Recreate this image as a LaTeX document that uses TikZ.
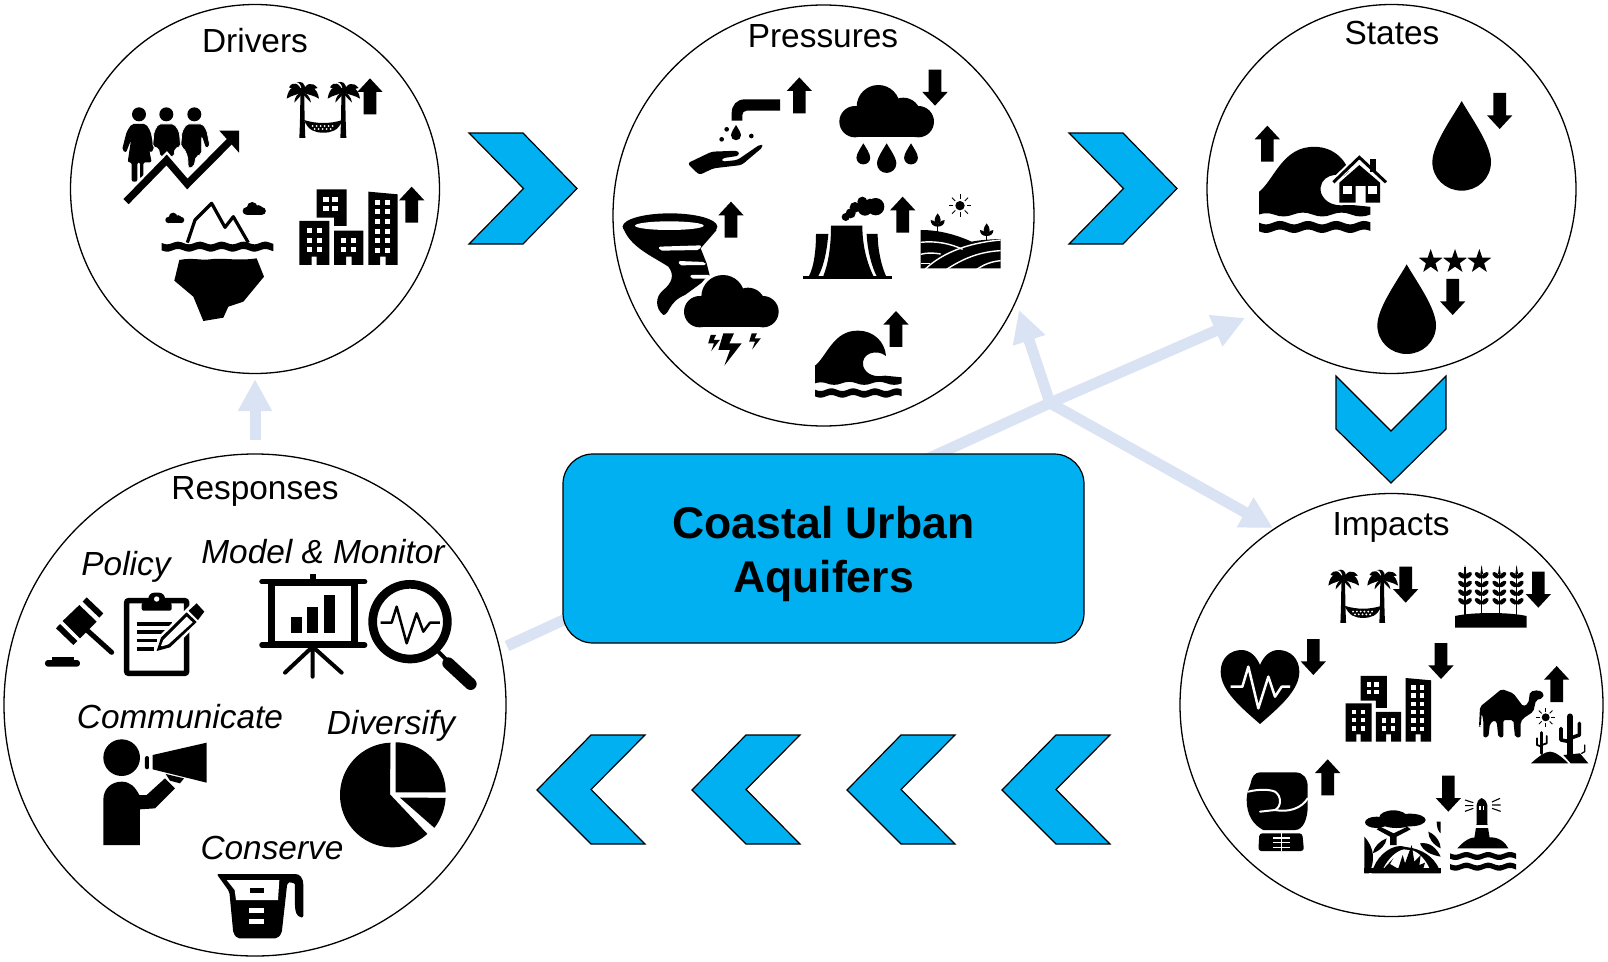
\documentclass[tikz,border=0pt]{standalone}
\usepackage{fontspec}
\setmainfont{Liberation Sans}
\usetikzlibrary{arrows.meta}
\definecolor{cyanfill}{HTML}{00B0F0}
\definecolor{linkblue}{HTML}{DAE3F3}

% wavy water band: x, y, length, half thickness, amplitude
\newcommand{\wavyband}[5]{%
  \fill plot[domain=0:#3,samples=50] ({#1+\x},{#2-#4+#5*sin(\x*5.5)})
     -- plot[domain=#3:0,samples=50] ({#1+\x},{#2+#4+#5*sin(\x*5.5)}) -- cycle;}

% places an icon drawing at a point, optionally scaled
\newcommand{\place}[3][1]{\begin{scope}[shift={#2},scale=#1]#3\end{scope}}

\newcommand{\icoUp}{\fill (0,0)--(38,41)--(19,41)--(19,108)--(-19,108)--(-19,41)--(-38,41)--cycle;}
\newcommand{\icoDown}{\fill (0,0)--(38,-41)--(19,-41)--(19,-108)--(-19,-108)--(-19,-41)--(-38,-41)--cycle;}
\newcommand{\icoChevR}{\path[chev] (0,0)--(54,0)--(108,55.5)--(54,111)--(0,111)--(54.5,55.5)--cycle;}
\newcommand{\icoChevL}{\path[chev] (0,0)--(-54,0)--(-108,55)--(-54,109)--(0,109)--(-54,54.5)--cycle;}
\newcommand{\icoChevD}{\path[chev] (0,0)--(55,55)--(110,0)--(110,53)--(55,107)--(0,53)--cycle;}
\newcommand{\icoDrop}{\fill (0,0) .. controls (-25,45) and (-88,130) .. (-88,183)
     .. controls (-88,232) and (-48,269) .. (0,269)
     .. controls (48,269) and (88,232) .. (88,183)
     .. controls (88,130) and (25,45) .. (0,0)--cycle;}
\newcommand{\icoCloud}{\begin{scope}[shift={(-688,-255)}]
     \fill (735,365) circle[radius=47]; \fill (805,320) circle[radius=65];
     \fill (880,345) circle[radius=52]; \fill (925,365) circle[radius=47];
     \fill (735,330) rectangle (925,412); \end{scope}}
\newcommand{\icoBolt}{\fill (0,0)--(32,0)--(18,30)--(55,30)--(3,97)--(20,50)--(-15,50)--cycle;}
\newcommand{\icoStar}{\fill (0,-38)--(8.8,-12.1)--(36.1,-11.7)--(14.3,4.6)--(22.3,30.7)--(0,15)
     --(-22.3,30.7)--(-14.3,4.6)--(-36.1,-11.7)--(-8.8,-12.1)--cycle;}
\newcommand{\icoPalm}{
     \fill (-6,0) -- (6,0) .. controls (6,50) and (7,100) .. (9,142) -- (-9,142) .. controls (-7,100) and (-6,50) .. (-6,0) -- cycle;
     \fill (0,0) ellipse[x radius=17,y radius=9];
     \fill (0,5) .. controls (-20,-22) and (-42,-12) .. (-47,24) .. controls (-32,14) and (-15,12) .. (0,5) -- cycle;
     \fill (0,5) .. controls (-10,-24) and (-28,-30) .. (-40,-10) .. controls (-25,-5) and (-10,2) .. (0,5) -- cycle;
     \fill (0,5) .. controls (-4,-18) and (-8,-26) .. (-18,-24) .. controls (-4,-30) and (10,-24) .. (8,-2) -- cycle;
     \fill (0,5) .. controls (10,-24) and (30,-28) .. (46,-8) .. controls (28,-4) and (12,2) .. (0,5) -- cycle;
     \fill (0,5) .. controls (20,-20) and (45,-12) .. (50,24) .. controls (35,14) and (15,12) .. (0,5) -- cycle;
     \fill (0,3) .. controls (-14,8) and (-24,20) .. (-24,36) .. controls (-14,24) and (-4,18) .. (0,3) -- cycle;
     \fill (0,3) .. controls (14,8) and (24,20) .. (26,36) .. controls (16,24) and (4,18) .. (0,3) -- cycle;}
\newcommand{\icoHammock}{\begin{scope}[shift={(-680,-250)}]
     \place{(727,272)}{\icoPalm} \place{(850,272)}{\icoPalm}
     \fill (732,360) .. controls (770,372) and (810,372) .. (848,360)
        .. controls (835,392) and (815,398) .. (790,398) .. controls (765,398) and (745,392) .. (732,360) -- cycle;
     \foreach \a in {758,770,...,826} {\fill[white] (\a,378) circle[radius=3.2]; }
     \foreach \a in {764,776,...,820} {\fill[white] (\a,387) circle[radius=3.2]; }
     \end{scope}}
\newcommand{\icoCity}{\begin{scope}[shift={(-718,-567)}]
     \fill (770,568)--(860,568)--(860,678)--(822,678)--(822,653)--(770,653)--cycle;
     \fill (718,663)--(808,663)--(808,795)--(770,795)--(770,770)--(755,770)--(755,795)--(718,795)--cycle;
     \fill (822,692)--(910,692)--(910,795)--(875,795)--(875,770)--(858,770)--(858,795)--(822,795)--cycle;
     \fill (925,575)--(1013,583)--(1013,795)--(977,795)--(977,770)--(960,770)--(960,795)--(925,795)--cycle;
     \foreach \a in {790,817} \foreach \b in {590,617} {\fill[white] (\a,\b) rectangle ++(16,15);}
     \foreach \a in {740,770} \foreach \b in {685,713,742} {\fill[white] (\a,\b) rectangle ++(15,15);}
     \foreach \a in {843,873} \foreach \b in {715,742} {\fill[white] (\a,\b) rectangle ++(15,15);}
     \foreach \a in {945,975} \foreach \b in {600,628,657,686,714,743} {\fill[white] (\a,\b) rectangle ++(15,15);}
     \end{scope}}
\newcommand{\icoWave}{\begin{scope}[shift={(-615,-990)}]
     \fill (615,1097) .. controls (650,1070) and (670,990) .. (745,992)
        .. controls (790,992) and (825,1025) .. (828,1068)
        .. controls (800,1045) and (750,1060) .. (760,1100)
        .. controls (770,1125) and (795,1132) .. (825,1127)
        -- (875,1132) -- (875,1150) .. controls (860,1156) and (845,1156) .. (830,1150)
        .. controls (815,1144) and (800,1144) .. (785,1150)
        .. controls (770,1156) and (755,1156) .. (740,1150)
        .. controls (725,1144) and (710,1144) .. (695,1150)
        .. controls (680,1156) and (665,1156) .. (650,1150)
        .. controls (640,1146) and (625,1146) .. (615,1150) -- cycle;
     \wavyband{615}{1179}{260}{10}{4}
     \end{scope}}
\newcommand{\icoSun}{\fill (0,0) circle[radius=14];
     \foreach \r in {0,45,...,315} {\draw[line width=.9pt] (\r:20) -- (\r:34);}}
\newcommand{\icoWheat}{\draw[line width=1.6pt] (0,0) -- (0,145);
     \fill (0,-5) -- (4,22) -- (-4,22) -- cycle;
     \foreach \b in {18,44,70,96} {
       \fill[rotate around={40:(10,\b+8)}] (10,\b+8) ellipse[x radius=13,y radius=7];
       \fill[rotate around={-40:(-10,\b+8)}] (-10,\b+8) ellipse[x radius=13,y radius=7];
     }}

\tikzset{
  stage/.style={circle,draw=black,line width=1.3pt,minimum size=#1,inner sep=0pt},
  caption/.style={anchor=base,font=\fontsize{33.4}{38}\selectfont,inner sep=0pt},
  subcaption/.style={anchor=base,font=\fontsize{33.4}{38}\selectfont\itshape,inner sep=0pt},
  hubbox/.style={draw=black,line width=1.2pt,fill=cyanfill,rounded corners=30pt,
     minimum width=521pt,minimum height=189pt,inner sep=0pt},
  link/.style={draw=linkblue,line width=11pt},
  linkhead/.style={link,-{Triangle[length=32pt,width=32pt]}},
  chev/.style={fill=cyanfill,draw=black,line width=1.2pt},
}

\begin{document}
\begin{tikzpicture}[x=1pt,y=-1pt]
\useasboundingbox (0,0) rectangle (1608,961);
\fill[white] (0,0) rectangle (1608,961);

% stage circles and hub box
\coordinate (hub) at (1050,403);
\coordinate (boxtop) at (925,460);
\coordinate (boxleft) at (570,617);
\coordinate (respend) at (507,646);
\coordinate (tipP) at (1019,310);
\coordinate (tipS) at (1245,318);
\coordinate (tipI) at (1273,528);
\path node[stage=369pt] (drivers) at (255,189) {};
\path node[stage=421pt] (pressures) at (823.5,215.5) {};
\path node[stage=369pt] (states) at (1391.5,189) {};
\path node[stage=502pt] (responses) at (255,705) {};
\path node[stage=423pt] (impacts) at (1391.5,705) {};

% pale links run underneath the hub box
\draw[linkhead,shorten <=13pt,shorten >=5pt] (responses.north) -- (drivers.south);
\draw[link] (boxleft) -- (respend);
\draw[link] (boxtop) -- (hub);
\draw[linkhead] (hub) -- (tipP);
\draw[linkhead] (hub) -- (tipS);
\draw[linkhead] (hub) -- (tipI);

\node[hubbox] (hubnode) at (823.5,548.5) {};
\node[align=center,inner sep=0pt,font=\fontsize{44.5}{54}\selectfont\bfseries] (hubtext) at (823.5,553.5)
  {Coastal Urban\\[0pt]Aquifers};

% flow chevrons
\place{(469,133)}{\icoChevR}
\place{(1069,133)}{\icoChevR}
\place{(1336,376)}{\icoChevD}
\place{(645,735)}{\icoChevL}
\place{(800,735)}{\icoChevL}
\place{(955,735)}{\icoChevL}
\place{(1110,735)}{\icoChevL}

% captions
\node[caption] (tdrivers) at (255,52) {Drivers};
\node[caption] (tpressures) at (823,47) {Pressures};
\node[caption] (tstates) at (1392,44) {States};
\node[caption] (tresponses) at (255,499) {Responses};
\node[caption] (timpacts) at (1391,535) {Impacts};
\node[subcaption] (tpolicy) at (126,575) {Policy};
\node[subcaption] (tmodel) at (323,563) {Model \& Monitor};
\node[subcaption] (tcomm) at (180,728) {Communicate};
\node[subcaption] (tdiv) at (391,734) {Diversify};
\node[subcaption] (tcons) at (272,859) {Conserve};

%%% Drivers icons
\begin{scope}[shift={(60,0)},scale=1/3]
  \foreach \a in {237,319,403} {\fill (\a,343) circle[radius=21];}
  \fill[rounded corners=2pt] (215,372)--(258,372)--(272,395)--(282,450)--(270,458)--(262,420)--(275,487)
     --(250,487)--(250,535)--(240,535)--(240,487)--(232,487)--(232,545)--(215,545)--(215,487)--(203,487)
     --(213,420)--(198,458)--(186,450)--(200,395)--cycle;
  \filldraw[draw=white,line width=.7pt,rounded corners=2pt] (295,372)--(343,372)--(358,395)--(362,440)--(345,445)--(342,470)--(300,470)--(296,445)--(278,440)--(282,395)--cycle;
  \filldraw[draw=white,line width=.7pt,rounded corners=2pt] (380,372)--(428,372)--(440,390)--(450,440)--(437,445)--(425,410)--(425,462)--(408,470)--(402,500)--(385,505)--(383,470)--(372,445)--(362,440)--(366,395)--cycle;
  \draw[white,line width=12pt] (198,605)--(320,480)--(382,552)--(505,428);
  \draw[line width=7.3pt] (198,605)--(320,480)--(382,552)--(515,418);
  \fill (478,392)--(537,392)--(537,458)--cycle;
  \place{(680,250)}{\icoHammock}
  \place{(930,235)}{\icoUp}
  \place{(718,567)}{\icoCity}
  \place{(1055,560)}{\icoUp}
  % iceberg
  \place[.2]{(316,638)}{\icoCloud}
  \place[.245]{(548,606)}{\icoCloud}
  \wavyband{305}{740}{335}{11}{4}
  \draw[line width=3.2pt,line join=round] (382,728)--(405,660)--(455,610)--(495,682)--(520,650)--(565,728);
  \fill (358,780) .. controls (400,772) and (420,782) .. (450,778) .. controls (490,772) and (530,784) .. (590,775)
     --(612,830)--(550,905)--(505,920)--(490,953)--(430,963)--(400,890)--(343,842)--cycle;
\end{scope}

%%% Pressures icons
\begin{scope}[shift={(610,0)},scale=1/3]
  % tap and hand
  \fill (510,298)--(405,298) .. controls (380,298) and (365,315) .. (365,340)--(365,362)--(397,362)--(397,345)
     .. controls (397,338) and (402,332) .. (410,332)--(510,332)--cycle;
  \place[.17]{(378,375)}{\icoDrop}
  \fill (350,388) circle[radius=7]; \fill (335,418) circle[radius=7]; \fill (424,408) circle[radius=7];
  \fill[rounded corners=3pt] (232,490)--(305,455)--(385,452)--(388,467)--(335,475)--(335,485)--(382,480)--(452,432)--(460,440)--(395,495)--(310,505)--(268,525)--cycle;
  \place{(568,232)}{\icoUp}
  % rain cloud
  \place{(688,255)}{\icoCloud}
  \place{(975,317)}{\icoDown}
  \place[.235]{(760,430)}{\icoDrop}
  \place[.33]{(830,430)}{\icoDrop}
  \place[.235]{(903,430)}{\icoDrop}
  % tornado and storm
  \fill (38,678) .. controls (55,740) and (130,770) .. (175,800) .. controls (195,825) and (185,850) .. (160,870)
     .. controls (135,890) and (135,925) .. (160,945) .. controls (178,945) and (175,905) .. (225,885)
     --(300,830)--(290,790)--(272,745)--(320,690)--cycle;
  \fill (180,680) ellipse[x radius=142,y radius=40];
  \fill[white] (178,677) ellipse[x radius=103,y radius=13];
  \fill[white,rounded corners=2pt] (145,740)--(275,736)--(268,750)--(150,752)--cycle;
  \fill[white,rounded corners=2pt] (205,783)--(285,786)--(288,795)--(208,796)--cycle;
  \fill[white,rounded corners=2pt] (240,825)--(300,825)--(300,836)--(243,836)--cycle;
  \fill[white] (268,935) circle[radius=58];
  \fill[white] (338,890) circle[radius=75];
  \place{(222,825)}{\icoCloud}
  \place{(340,1000)}{\icoBolt}
  \place[.5]{(302,1005)}{\icoBolt}
  \place[.5]{(425,1000)}{\icoBolt}
  \place{(363,605)}{\icoUp}
  % cooling tower
  \fill (663,677)--(757,677) .. controls (757,740) and (772,790) .. (790,828)--(640,828) .. controls (655,790) and (663,740) .. (663,677)--cycle;
  \fill (618,702)--(655,702) .. controls (650,760) and (640,800) .. (625,828)--(597,828) .. controls (612,800) and (618,750) .. (618,702)--cycle;
  \fill (770,702)--(803,702) .. controls (803,750) and (815,800) .. (828,828)--(800,828) .. controls (785,800) and (772,750) .. (770,702)--cycle;
  \fill (578,828) rectangle (845,838);
  \foreach \a/\b/\r in {707/651/12,722/640/15,735/622/16,757/605/15,765/625/22,797/620/26,780/610/14} {\fill (\a,\b) circle[radius=\r];}
  \place{(878,590)}{\icoUp}
  % farmland
  \fill (932,690) .. controls (990,690) and (1040,705) .. (1085,725) .. controls (1110,720) and (1140,718) .. (1172,717)--(1172,805)--(932,805)--cycle;
  \draw[white,line width=1.4pt] (945,808) .. controls (990,765) and (1060,730) .. (1172,720);
  \draw[white,line width=1.4pt] (932,727) .. controls (975,722) and (1020,730) .. (1058,748);
  \draw[white,line width=1.4pt] (932,763) .. controls (950,758) and (970,758) .. (992,762);
  \draw[white,line width=1.4pt] (932,790) -- (960,790);
  \draw[white,line width=1.4pt] (1010,808) .. controls (1060,775) and (1110,755) .. (1172,752);
  \draw[white,line width=1.4pt] (1100,808) .. controls (1120,795) and (1140,785) .. (1172,782);
  \draw[line width=1.6pt] (983,695)--(983,660);
  \fill (983,640) .. controls (995,655) and (995,668) .. (983,672) .. controls (971,668) and (971,655) .. (983,640)--cycle;
  \fill (962,660) .. controls (975,662) and (985,670) .. (983,680) .. controls (970,680) and (962,672) .. (962,660)--cycle;
  \fill (1004,660) .. controls (991,662) and (981,670) .. (983,680) .. controls (996,680) and (1004,672) .. (1004,660)--cycle;
  \draw[line width=1.6pt] (1130,722)--(1130,695);
  \fill (1130,670) .. controls (1142,685) and (1142,698) .. (1130,702) .. controls (1118,698) and (1118,685) .. (1130,670)--cycle;
  \fill (1110,690) .. controls (1122,692) and (1132,700) .. (1130,708) .. controls (1118,708) and (1110,702) .. (1110,690)--cycle;
  \fill (1150,690) .. controls (1138,692) and (1128,700) .. (1130,708) .. controls (1142,708) and (1150,702) .. (1150,690)--cycle;
  \place{(1050,617)}{\icoSun}
  % wave
  \place{(615,990)}{\icoWave}
  \place{(858,933)}{\icoUp}
\end{scope}

%%% States icons
\begin{scope}[shift={(1200,0)},scale=1/3]
  \place{(202,377)}{\icoUp}
  \place[1.285]{(177,438)}{\icoWave}
  % house on the wave
  \fill[white] (410,548)--(478,485)--(548,548)--(548,615)--(410,615)--cycle;
  \draw[white,line width=6pt,line cap=round] (392,552)--(478,470)--(565,552);
  \fill (418,548)--(478,495)--(540,548)--(540,608)--(497,608)--(497,558)--(467,558)--(467,608)--(418,608)--cycle;
  \fill[white] (430,558) rectangle (455,582);
  \fill[white] (503,558) rectangle (530,582);
  \draw[line width=3pt] (400,547)--(478,472)--(558,547);
  \fill (510,476) rectangle (527,515);
  \place{(785,303)}{\icoDrop}
  \place{(899,387)}{\icoDown}
  \place{(692,785)}{\icoStar}
  \place{(765,785)}{\icoStar}
  \place{(838,785)}{\icoStar}
  \place{(620,793)}{\icoDrop}
  \place{(758,945)}{\icoDown}
\end{scope}

%%% Responses icons
\begin{scope}[shift={(0,450)},scale=1/3]
  % gavel
  \fill (260,442)--(310,490)--(298,503)--(248,455)--cycle;
  \fill (180,522)--(232,573)--(220,585)--(168,535)--cycle;
  \fill (238,465)--(290,515)--(240,565)--(188,513)--cycle;
  \draw[line width=5pt,line cap=round] (255,535)--(335,607);
  \fill[rounded corners=3pt] (135,630) rectangle (240,650);
  \fill (155,620) rectangle (222,632);
  % clipboard and pencil
  \draw[line width=5.5pt,rounded corners=2pt] (380,452) rectangle (560,670);
  \fill[rounded corners=2pt] (425,458) rectangle (515,482);
  \fill[rounded corners=6pt] (445,428) rectangle (495,465);
  \fill[white] (470,447) circle[radius=8];
  \draw[line width=3.6pt] (410,522)--(515,522) (410,546)--(497,546) (410,572)--(472,572) (410,597)--(462,597);
  \fill[white] (462,610)--(480,555)--(585,450)--(625,490)--(515,600)--cycle;
  \fill (470,603)--(483,563)--(560,487)--(590,516)--(510,592)--cycle;
  \fill[white] (482,590)--(490,570)--(560,500)--(578,517)--(505,583)--cycle;
  \fill (472,600)--(478,582)--(492,595)--cycle;
  \fill (566,482)--(590,460)--(613,485)--(594,510)--cycle;
  % presentation board
  \draw[line width=5.5pt,line cap=round] (786,395)--(1094,395);
  \draw[line width=5.5pt,line cap=round] (786,585)--(1094,585);
  \draw[line width=6pt] (938,372)--(938,390);
  \draw[line width=6.5pt] (814,398) rectangle (1063,583);
  \fill (872,500) rectangle (905,550);
  \fill (922,470) rectangle (955,550);
  \fill (973,435) rectangle (1005,550);
  \draw[line width=4pt,line cap=round] (938,590)--(938,680) (938,590)--(855,668) (938,590)--(1025,668);
  % magnifier
  \draw[line width=8.7pt] (1230,515) circle[radius=112];
  \draw[line width=2.5pt,line join=round] (1142,518)--(1175,518)--(1190,470)--(1220,580)--(1250,490)--(1270,545)--(1290,518)--(1320,518);
  \draw[line width=4pt] (1310,600)--(1340,630);
  \draw[line width=12pt,line cap=round] (1345,640)--(1412,702);
  % megaphone speaker
  \fill (365,923) circle[radius=55];
  \fill (310,1185)--(310,1050) .. controls (310,1015) and (335,995) .. (365,995) .. controls (390,995) and (405,1010) .. (418,1035)
     --(440,1035)--(495,985)--(525,1015)--(465,1075)--(420,1078)--(420,1185)--cycle;
  \fill[rounded corners=2pt] (435,918) rectangle (447,958);
  \fill (458,915)--(620,878)--(620,998)--(458,958)--cycle;
  \fill (497,972)--(552,985)--(540,1000)--(510,992)--cycle;
  % pie chart
  \fill plot[domain=48:268,samples=70] ({1177+157*cos(\x)},{1035+157*sin(\x)}) -- (1170,1033) -- cycle;
  \fill plot[domain=-90:0,samples=40] ({1187+150*cos(\x)},{1027+150*sin(\x)}) -- (1187,1027) -- cycle;
  \fill plot[domain=3:38,samples=20] ({1177+160*cos(\x)},{1035+160*sin(\x)}) -- (1200,1043) -- cycle;
  % measuring jug
  \fill[rounded corners=2pt] (650,1272)--(880,1272) .. controls (900,1272) and (910,1285) .. (910,1310)--(910,1403) .. controls (890,1400) and (885,1385) .. (885,1360)--(885,1310) .. controls (885,1300) and (875,1296) .. (862,1298)--(845,1450)--(832,1465)--(712,1465)--(700,1450)--(688,1325)--cycle;
  \fill[white] (680,1290)--(838,1290)--(834,1350)--(708,1350)--(704,1320)--cycle;
  \fill (750,1315) rectangle (792,1330);
  \fill[white] (748,1373) rectangle (792,1388);
  \fill[white] (748,1407) rectangle (792,1422);
\end{scope}

%%% Impacts icons
\begin{scope}[shift={(1180,490)},scale=1/3]
  \place[.95]{(445,243)}{\icoHammock}
  \place{(677,338)}{\icoDown}
  % wheat field
  \foreach \a in {855,905,958,1010} {\place{(\a,230)}{\icoWheat}}
  \fill (825,378) .. controls (880,366) and (985,366) .. (1040,378)--(1040,413)--(825,413)--cycle;
  \place{(1075,353)}{\icoDown}
  % heart with pulse
  \fill (240,702) .. controls (180,650) and (122,600) .. (122,545) .. controls (122,505) and (150,480) .. (185,480)
     .. controls (210,480) and (230,500) .. (240,525) .. controls (250,500) and (270,480) .. (295,480)
     .. controls (330,480) and (358,505) .. (358,545) .. controls (358,600) and (300,650) .. (240,702)--cycle;
  \draw[white,line width=2.5pt,line join=round] (152,590)--(187,590)--(205,530)--(235,655)--(265,560)--(285,620)--(305,590)--(330,590);
  \place{(400,555)}{\icoDown}
  \place[.868]{(497,557)}{\icoCity}
  \place{(783,567)}{\icoDown}
  % camel in the desert
  \fill[rounded corners=2pt] (897,710)--(900,650)--(925,630)--(965,597)--(1000,610)--(1030,650)--(1045,640)--(1050,605)--(1075,600)--(1092,610)--(1088,625)--(1068,630)--(1060,665)--(1030,685)--(1022,695)--(1022,742)--(1005,742)--(1000,690)--(970,690)--(970,742)--(955,742)--(950,695)--(945,690)--(930,700)--(925,742)--(910,742)--(910,690)--(905,670)--(902,710)--cycle;
  \place[.85]{(1097,682)}{\icoSun}
  \place{(1130,528)}{\icoUp}
  \draw[line width=6.5pt,line cap=round] (1170,680)--(1170,795);
  \draw[line width=3.6pt,line cap=round,line join=round] (1143,715)--(1143,750)--(1170,755);
  \draw[line width=3.6pt,line cap=round,line join=round] (1198,700)--(1198,735)--(1170,745);
  \draw[line width=3pt,line cap=round] (1085,728)--(1085,790);
  \draw[line width=1.8pt,line cap=round,line join=round] (1071,745)--(1071,765)--(1085,770);
  \draw[line width=1.8pt,line cap=round,line join=round] (1100,738)--(1100,760)--(1085,765);
  \draw[line width=1.3pt,line cap=round,line join=round] (1214,765)--(1214,785)--(1205,790);
  \fill (1053,820) .. controls (1075,800) and (1095,785) .. (1110,785) .. controls (1125,785) and (1145,800) .. (1165,820)--cycle;
  \fill (1150,795)--(1200,790)--(1225,820)--(1172,820)--cycle;
  % boxing glove
  \fill (240,847)--(345,847) .. controls (370,847) and (383,865) .. (383,890)--(383,950)
     .. controls (383,985) and (370,1020) .. (345,1020)--(250,1020)
     .. controls (220,1005) and (200,975) .. (200,930) .. controls (200,905) and (208,895) .. (212,880)
     .. controls (215,860) and (225,847) .. (240,847)--cycle;
  \draw[white,line width=2pt,line cap=round] (205,905) .. controls (235,897) and (270,898) .. (285,905)
     .. controls (305,918) and (305,950) .. (285,960)--(240,965);
  \draw[white,line width=2pt,line cap=round] (285,960) .. controls (325,968) and (365,955) .. (383,925);
  \fill[rounded corners=3pt] (238,1030)--(367,1030)--(372,1083)--(235,1083)--cycle;
  \draw[white,line width=1.6pt] (305,1030)--(305,1083);
  \draw[white,line width=1.6pt] (280,1044)--(330,1044) (280,1058)--(330,1058) (280,1072)--(330,1072);
  \place{(443,808)}{\icoUp}
  % forest
  \foreach \a/\b/\rx/\ry in {590/997/35/17,640/982/42/21,690/990/47/19,650/1000/45/14} {\fill (\a,\b) ellipse[x radius=\rx,y radius=\ry];}
  \fill (630,1065)--(650,1065)--(650,1040)--(692,1018)--(682,1010)--(641,1030)--(600,1010)--(590,1018)--(630,1040)--cycle;
  \fill (575,1150) .. controls (585,1105) and (625,1068) .. (662,1068)--(700,1075) .. controls (740,1085) and (770,1110) .. (782,1150)--cycle;
  \fill[white] (610,1135) .. controls (625,1105) and (650,1082) .. (672,1078)--(700,1082) .. controls (720,1090) and (740,1115) .. (748,1135)--cycle;
  \fill (655,1135)--(668,1095)--(675,1120)--(695,1065)--(703,1115)--(722,1095)--(718,1125)--(735,1118)--(730,1135)--cycle;
  \fill (612,1135)--(640,1105)--(630,1122)--(652,1135)--cycle;
  \fill (553,1150) rectangle (782,1135);
  \fill (553,1040) .. controls (585,1075) and (585,1115) .. (567,1150)--(553,1150)--cycle;
  \fill (578,1090) .. controls (582,1070) and (600,1052) .. (620,1045) .. controls (618,1065) and (600,1082) .. (578,1090)--cycle;
  \fill (745,1025) .. controls (770,1035) and (782,1060) .. (782,1075) .. controls (760,1065) and (745,1045) .. (745,1025)--cycle;
  \fill (720,1060) .. controls (750,1055) and (770,1075) .. (782,1100) .. controls (755,1095) and (730,1085) .. (720,1060)--cycle;
  \fill (770,995)--(782,995)--(782,1030) .. controls (775,1025) and (770,1012) .. (770,995)--cycle;
  \place{(805,965)}{\icoDown}
  % lighthouse
  \fill (905,924) .. controls (915,930) and (922,935) .. (922,945)--(922,1000)--(930,1050)--(882,1050)--(890,1000)--(890,945) .. controls (890,935) and (895,930) .. (905,924)--cycle;
  \fill[white] (885,1005) rectangle (927,1013);
  \fill[white] (898,947) rectangle (902,960); \fill[white] (909,947) rectangle (913,960);
  \draw[line width=1.1pt] (855,930)--(880,938) (855,947)--(880,947) (855,964)--(880,955);
  \draw[line width=1.1pt] (960,925)--(936,936) (962,945)--(936,945) (962,964)--(936,955);
  \fill (832,1075) .. controls (850,1055) and (870,1040) .. (890,1042) -- (925,1042) .. controls (955,1040) and (975,1055) .. (985,1075)--cycle;
  \wavyband{810}{1098}{198}{8}{4}
  \wavyband{810}{1130}{198}{8}{4}
\end{scope}
\end{tikzpicture}
\end{document}
